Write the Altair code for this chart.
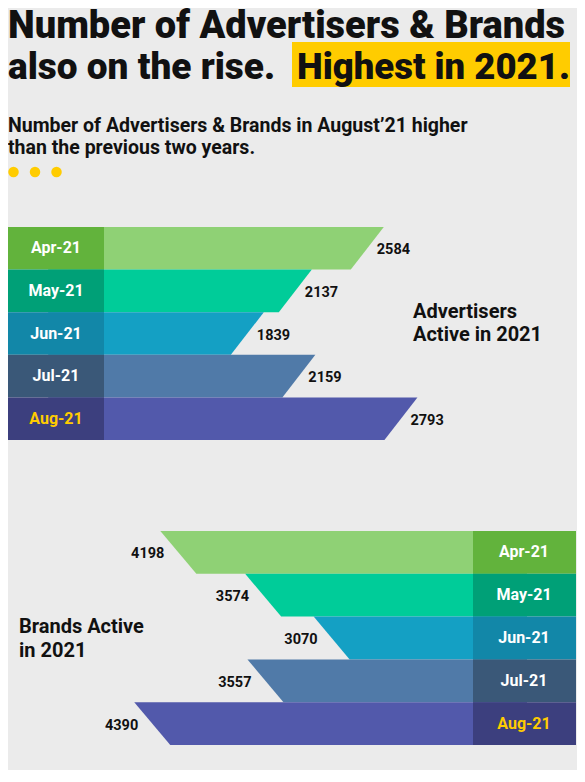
import altair as alt
import pandas as pd

# ---------------- data ----------------
months = ["Apr-21", "May-21", "Jun-21", "Jul-21", "Aug-21"]
advertisers = [2584, 2137, 1839, 2159, 2793]
brands = [4198, 3574, 3070, 3557, 4390]

bar_colors = ["#8fd175", "#00cc99", "#14a0c4", "#507aa8", "#5259ab"]
block_colors = ["#62b33c", "#00a077", "#1287a8", "#3a5878", "#3c3f7e"]

title_line1 = "Number of Advertisers & Brands"
title_line2a = "also on the rise."
title_line2b = "Highest in 2021."
sub_line1 = "Number of Advertisers & Brands in August\u201921 higher"
sub_line2 = "than the previous two years."
adv_note = ["Advertisers", "Active in 2021"]
brand_note = ["Brands Active", "in 2021"]

# ---------------- layout ----------------
W, H = 569, 762
FONT = "Roboto"
BG = "#ebebeb"
YELLOW = "#ffcc00"
INK = "#111111"


def poly_table(values, slant, base):
    recs = []
    for i, (m, v) in enumerate(zip(months, values)):
        recs.append({"month": m, "row": i, "edge": v, "base": base})
        recs.append({"month": m, "row": i + 1, "edge": v - slant, "base": base})
    return pd.DataFrame(recs)


def row_table(values):
    return pd.DataFrame({
        "month": months,
        "value": values,
        "row": list(range(len(months))),
        "row2": [i + 1 for i in range(len(months))],
        "mid": [i + 0.5 for i in range(len(months))],
    })


def panel(values, xscale, yscale, slant, base, block_x, block_x2, label_x,
          value_align, value_dx):
    poly = poly_table(values, slant, base)
    rows = row_table(values)
    bars = alt.Chart(poly).mark_area(orient="horizontal", interpolate="linear").encode(
        y=alt.Y("row:Q", scale=yscale, axis=None),
        x=alt.X("edge:Q", scale=xscale, axis=None, stack=None),
        x2=alt.X2("base:Q"),
        color=alt.Color("month:N", scale=alt.Scale(domain=months, range=bar_colors), legend=None),
    )
    blocks = alt.Chart(rows).mark_rect().encode(
        y=alt.Y("row:Q", scale=yscale, axis=None),
        y2="row2:Q",
        x=alt.value(block_x),
        x2=alt.value(block_x2),
        color=alt.Color("month:N", scale=alt.Scale(domain=months, range=block_colors), legend=None),
    )
    mlabels = alt.Chart(rows).mark_text(
        font=FONT, fontWeight="bold", fontSize=16, align="center", baseline="middle"
    ).encode(
        y=alt.Y("mid:Q", scale=yscale, axis=None),
        x=alt.value(label_x),
        text="month:N",
        color=alt.condition(alt.datum.month == "Aug-21", alt.value(YELLOW), alt.value("white")),
    )
    vlabels = alt.Chart(rows).mark_text(
        font=FONT, fontWeight="bold", fontSize=14.5, align=value_align, baseline="middle",
        dx=value_dx, dy=2, color=INK
    ).encode(
        y=alt.Y("mid:Q", scale=yscale, axis=None),
        x=alt.X("value:Q", scale=xscale, axis=None),
        text=alt.Text("value:Q", format="d"),
    )
    return [bars, blocks, mlabels, vlabels]


# top panel: advertisers (bars grow to the right)
top_y = alt.Scale(domain=[0, 5], range=[219, 432])
top_x = alt.Scale(domain=[250, 3784], range=[0, W], zero=False)
top_layers = panel(advertisers, top_x, top_y, 205, 500, 0, 96, 48, "left", -7)

# bottom panel: brands (bars grow to the left)
bot_y = alt.Scale(domain=[0, 5], range=[523, 737])
bot_x = alt.Scale(domain=[1132, 5319], range=[W, 0], zero=False)
bot_layers = panel(brands, bot_x, bot_y, 265, 1500, 465, 568, 516, "right", 4)

one = pd.DataFrame({"k": [0]})


def text(t, x, y, size, weight="bold", color=INK, align="left"):
    return alt.Chart(one).mark_text(
        text=t, font=FONT, fontSize=size, fontWeight=weight, color=color,
        align=align, baseline="alphabetic"
    ).encode(x=alt.value(x), y=alt.value(y))


highlight = alt.Chart(one).mark_rect(color=YELLOW).encode(
    x=alt.value(284), x2=alt.value(562), y=alt.value(34), y2=alt.value(79)
)

dots_df = pd.DataFrame({"i": [0, 1, 2]})
dots = alt.Chart(dots_df).mark_circle(size=110, color=YELLOW, opacity=1).encode(
    x=alt.X("i:Q", scale=alt.Scale(domain=[0, 2], range=[5.5, 48.5]), axis=None),
    y=alt.value(164),
)

header = [
    highlight,
    text(title_line1, 0, 30, 38, weight=900),
    text(title_line2a, 0, 71, 37, weight=900),
    text(title_line2b, 289, 71, 36.5, weight=900),
    text(sub_line1, 0, 124, 19.5),
    text(sub_line2, 0, 146, 19.5),
    dots,
]

notes = [
    text(adv_note[0], 405, 310, 20),
    text(adv_note[1], 405, 333, 20),
    text(brand_note[0], 11, 625, 20),
    text(brand_note[1], 11, 649, 20),
]

chart = alt.layer(*(header + top_layers + bot_layers + notes)).resolve_scale(
    x="independent", y="independent", color="independent"
).properties(
    width=W, height=H, padding=0, background=BG,
).configure_view(stroke=None)

chart.save("out.html", embed_options={"renderer": "svg", "actions": False})
